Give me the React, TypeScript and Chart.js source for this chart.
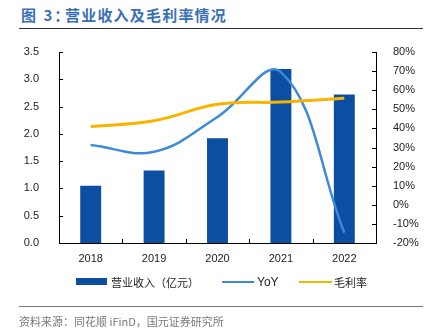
import React, { useEffect, useRef } from "react";
import { Chart, registerables } from "chart.js";

Chart.register(...registerables);

const categories = ["2018", "2019", "2020", "2021", "2022"];
const revenue = [1.05, 1.33, 1.92, 3.19, 2.72];
const yoy = [31.3, 27.8, 46.0, 69.5, -14.6];
const grossMargin = [41.0, 44.0, 52.6, 53.8, 55.8];
const leftTicks = [0, 0.5, 1, 1.5, 2, 2.5, 3, 3.5];
const rightTicks = [-20, -10, 0, 10, 20, 30, 40, 50, 60, 70, 80];

const BAR = "#0B4EA2";
const YOY = "#3D8BD6";
const GM = "#F7B500";
const NUM_FONT = "'Liberation Sans', Arial, sans-serif";
const CJK_FONT = "'Noto Sans CJK SC', 'Liberation Sans', sans-serif";

const tickPlugin = {
  id: "inwardTicks",
  afterDraw(chart: any) {
    const ctx = chart.ctx;
    const { left, right, bottom } = chart.chartArea;
    const yl = chart.scales.y;
    const yr = chart.scales.y1;
    const x = chart.scales.x;
    ctx.save();
    ctx.strokeStyle = "#000";
    ctx.lineWidth = 1;
    ctx.beginPath();
    leftTicks.forEach((v) => {
      const py = Math.round(yl.getPixelForValue(v)) + 0.5;
      ctx.moveTo(left, py);
      ctx.lineTo(left + 4, py);
    });
    rightTicks.forEach((v) => {
      const py = Math.round(yr.getPixelForValue(v)) + 0.5;
      ctx.moveTo(right - 4, py);
      ctx.lineTo(right, py);
    });
    for (let i = 0; i < categories.length - 1; i++) {
      const px = Math.round((x.getPixelForValue(i) + x.getPixelForValue(i + 1)) / 2) + 0.5;
      ctx.moveTo(px, bottom);
      ctx.lineTo(px, bottom - 4);
    }
    ctx.stroke();
    ctx.restore();
  },
};

function ChartCanvas() {
  const ref = useRef<HTMLCanvasElement | null>(null);
  useEffect(() => {
    if (!ref.current) return;
    const chart = new Chart(ref.current, {
      type: "bar",
      data: {
        labels: categories,
        datasets: [
          {
            type: "line",
            label: "YoY",
            data: yoy,
            yAxisID: "y1",
            borderColor: YOY,
            borderWidth: 2.5,
            pointRadius: 0,
            tension: 0.4,
            order: 1,
          } as any,
          {
            type: "line",
            label: "毛利率",
            data: grossMargin,
            yAxisID: "y1",
            borderColor: GM,
            borderWidth: 3,
            pointRadius: 0,
            tension: 0.4,
            order: 0,
          } as any,
          {
            type: "bar",
            label: "营业收入（亿元）",
            data: revenue,
            yAxisID: "y",
            backgroundColor: BAR,
            barPercentage: 0.33,
            categoryPercentage: 1,
            order: 2,
          } as any,
        ],
      },
      options: {
        responsive: false,
        animation: false,
        layout: { padding: { top: 52, left: 0, right: 0, bottom: 0 } },
        plugins: { legend: { display: false }, tooltip: { enabled: false }, title: { display: false } },
        scales: {
          x: {
            offset: true,
            grid: { display: false },
            border: { display: true, color: "#000", width: 1 },
            ticks: { color: "#222", font: { family: NUM_FONT, size: 11 }, padding: 1, maxRotation: 0 },
            afterFit: (s: any) => { s.height = 93; },
          },
          y: {
            position: "left",
            min: 0,
            max: 3.5,
            grid: { display: false },
            border: { display: true, color: "#000", width: 1 },
            ticks: {
              stepSize: 0.5,
              color: "#222",
              font: { family: NUM_FONT, size: 11 },
              padding: 12,
              callback: (v: any) => Number(v).toFixed(1),
            },
            afterFit: (s: any) => { s.width = 59; },
          },
          y1: {
            position: "right",
            min: -20,
            max: 80,
            grid: { display: false },
            border: { display: true, color: "#000", width: 1 },
            ticks: {
              stepSize: 10,
              color: "#222",
              font: { family: NUM_FONT, size: 11 },
              padding: 9,
              callback: (v: any) => `${v}%`,
            },
            afterFit: (s: any) => { s.width = 55; },
          },
        },
      },
      plugins: [tickPlugin],
    });
    return () => chart.destroy();
  }, []);
  return (
    <canvas
      ref={ref}
      width={431}
      height={336}
      style={{ position: "absolute", left: 0, top: 0, width: 431, height: 336 }}
    />
  );
}

export default function App() {
  const legendText: React.CSSProperties = {
    position: "absolute",
    top: 275,
    fontSize: 11,
    lineHeight: "14px",
    color: "#222",
    fontFamily: CJK_FONT,
    whiteSpace: "nowrap",
  };
  const titleStyle: React.CSSProperties = {
    position: "absolute",
    top: 5,
    fontSize: 15,
    lineHeight: "20px",
    fontWeight: 700,
    color: "#3A6FB7",
    whiteSpace: "nowrap",
  };
  return (
    <div
      style={{
        position: "fixed",
        left: 0,
        top: 0,
        width: 431,
        height: 336,
        background: "#fff",
        overflow: "hidden",
        fontFamily: CJK_FONT,
      }}
    >
      <div style={{ ...titleStyle, left: 21, letterSpacing: 2 }}>图 3：</div>
      <div style={{ ...titleStyle, left: 65, letterSpacing: 1.2 }}>营业收入及毛利率情况</div>
      <div style={{ position: "absolute", left: 19, top: 28, width: 404, height: 1, background: "#333" }} />
      <ChartCanvas />
      <div style={{ position: "absolute", left: 76, top: 278, width: 31, height: 7, background: BAR }} />
      <div style={{ ...legendText, left: 111 }}>营业收入（亿元）</div>
      <div style={{ position: "absolute", left: 222, top: 281, width: 32, height: 2, background: YOY }} />
      <div style={{ ...legendText, left: 257, fontFamily: NUM_FONT, fontSize: 12 }}>YoY</div>
      <div style={{ position: "absolute", left: 299, top: 281, width: 33, height: 2, background: GM }} />
      <div style={{ ...legendText, left: 334 }}>毛利率</div>
      <div style={{ position: "absolute", left: 19, top: 306, width: 404, height: 1, background: "#777" }} />
      <div
        style={{
          position: "absolute",
          left: 19,
          top: 314,
          fontSize: 11,
          lineHeight: "14px",
          color: "#777",
          whiteSpace: "nowrap",
        }}
      >
        资料来源：同花顺 iFinD，国元证券研究所
      </div>
    </div>
  );
}
